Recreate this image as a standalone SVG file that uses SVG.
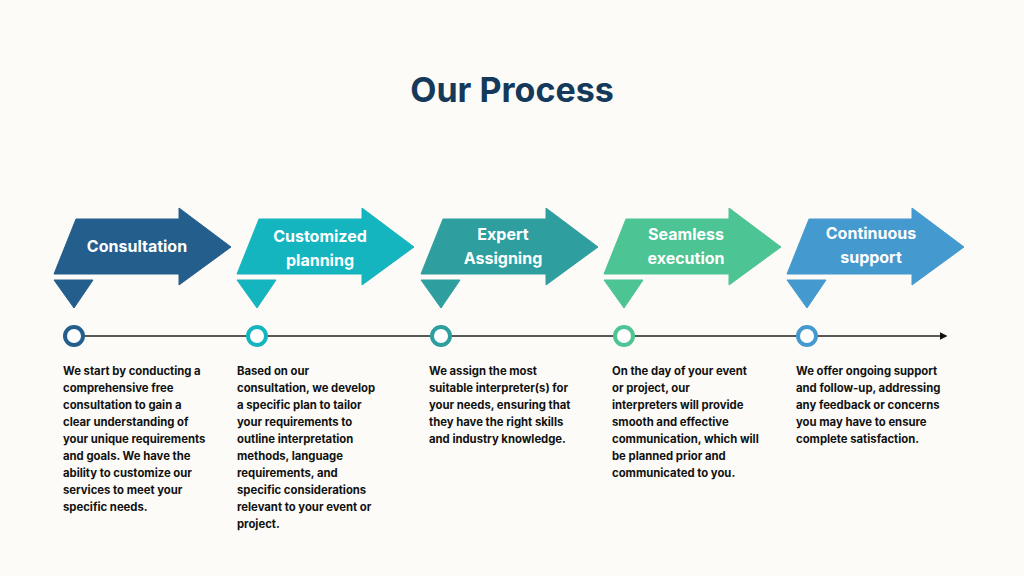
<svg xmlns="http://www.w3.org/2000/svg" width="1024" height="576" viewBox="0 0 1024 576">
<defs>
<style>
text{font-family:Inter,"Liberation Sans",sans-serif;font-weight:700}
.t{fill:#fff;font-size:16px;text-anchor:middle}
.b{fill:#111;font-size:11.3px}
.c{fill:#fff;stroke-width:4}
</style>
<path id="ar" d="M22,11 H125 V0 L177,39 L125,77 V66 H0 Z"/>
<path id="tri" d="M0,72 H39 L20,100 Z"/>
<marker id="m" markerWidth="6" markerHeight="6" refX="5" refY="3" orient="auto"><path d="M0,0 L6,3 L0,6 Z" fill="#111"/></marker>
</defs>
<rect width="1024" height="576" fill="#FCFBF7"/>
<text x="512" y="102" style="font-size:34px;fill:#14395A;text-anchor:middle">Our Process</text>
<g id="connectors"><line x1="74" y1="336" x2="946" y2="336" stroke="#222" stroke-width="1.3" marker-end="url(#m)"/></g>
<g id="n1" fill="#245E8C" stroke="#245E8C"><use href="#ar" x="54" y="208"/><use href="#tri" x="54" y="208"/><circle class="c" cx="74" cy="336" r="9"/>
<text class="t" x="137" y="252" stroke="none">Consultation</text>
<text class="b" stroke="none" x="63"><tspan x="63" y="375">We start by conducting a</tspan><tspan x="63" y="392">comprehensive free</tspan><tspan x="63" y="409">consultation to gain a</tspan><tspan x="63" y="426">clear understanding of</tspan><tspan x="63" y="443">your unique requirements</tspan><tspan x="63" y="460">and goals. We have the</tspan><tspan x="63" y="477">ability to customize our</tspan><tspan x="63" y="494">services to meet your</tspan><tspan x="63" y="511">specific needs.</tspan></text></g>
<g id="n2" fill="#15B5BF" stroke="#15B5BF"><use href="#ar" x="237" y="208"/><use href="#tri" x="237" y="208"/><circle class="c" cx="257" cy="336" r="9"/>
<text class="t" stroke="none"><tspan x="320" y="242">Customized</tspan><tspan x="320" y="266">planning</tspan></text>
<text class="b" stroke="none"><tspan x="237" y="375">Based on our</tspan><tspan x="237" y="392">consultation, we develop</tspan><tspan x="237" y="409">a specific plan to tailor</tspan><tspan x="237" y="426">your requirements to</tspan><tspan x="237" y="443">outline interpretation</tspan><tspan x="237" y="460">methods, language</tspan><tspan x="237" y="477">requirements, and</tspan><tspan x="237" y="494">specific considerations</tspan><tspan x="237" y="511">relevant to your event or</tspan><tspan x="237" y="528">project.</tspan></text></g>
<g id="n3" fill="#2E9E9E" stroke="#2E9E9E"><use href="#ar" x="421" y="208"/><use href="#tri" x="421" y="208"/><circle class="c" cx="441" cy="336" r="9"/>
<text class="t" stroke="none"><tspan x="503" y="240">Expert</tspan><tspan x="503" y="264">Assigning</tspan></text>
<text class="b" stroke="none"><tspan x="429" y="375">We assign the most</tspan><tspan x="429" y="392">suitable interpreter(s) for</tspan><tspan x="429" y="409">your needs, ensuring that</tspan><tspan x="429" y="426">they have the right skills</tspan><tspan x="429" y="443">and industry knowledge.</tspan></text></g>
<g id="n4" fill="#4CC493" stroke="#4CC493"><use href="#ar" x="604" y="208"/><use href="#tri" x="604" y="208"/><circle class="c" cx="624" cy="336" r="9"/>
<text class="t" stroke="none"><tspan x="686" y="240">Seamless</tspan><tspan x="686" y="264">execution</tspan></text>
<text class="b" stroke="none"><tspan x="612" y="375">On the day of your event</tspan><tspan x="612" y="392">or project, our</tspan><tspan x="612" y="409">interpreters will provide</tspan><tspan x="612" y="426">smooth and effective</tspan><tspan x="612" y="443">communication, which will</tspan><tspan x="612" y="460">be planned prior and</tspan><tspan x="612" y="477">communicated to you.</tspan></text></g>
<g id="n5" fill="#4499CF" stroke="#4499CF"><use href="#ar" x="787" y="208"/><use href="#tri" x="787" y="208"/><circle class="c" cx="807" cy="336" r="9"/>
<text class="t" stroke="none"><tspan x="871" y="239">Continuous</tspan><tspan x="871" y="263">support</tspan></text>
<text class="b" stroke="none"><tspan x="796" y="375">We offer ongoing support</tspan><tspan x="796" y="392">and follow-up, addressing</tspan><tspan x="796" y="409">any feedback or concerns</tspan><tspan x="796" y="426">you may have to ensure</tspan><tspan x="796" y="443">complete satisfaction.</tspan></text></g>
</svg>
